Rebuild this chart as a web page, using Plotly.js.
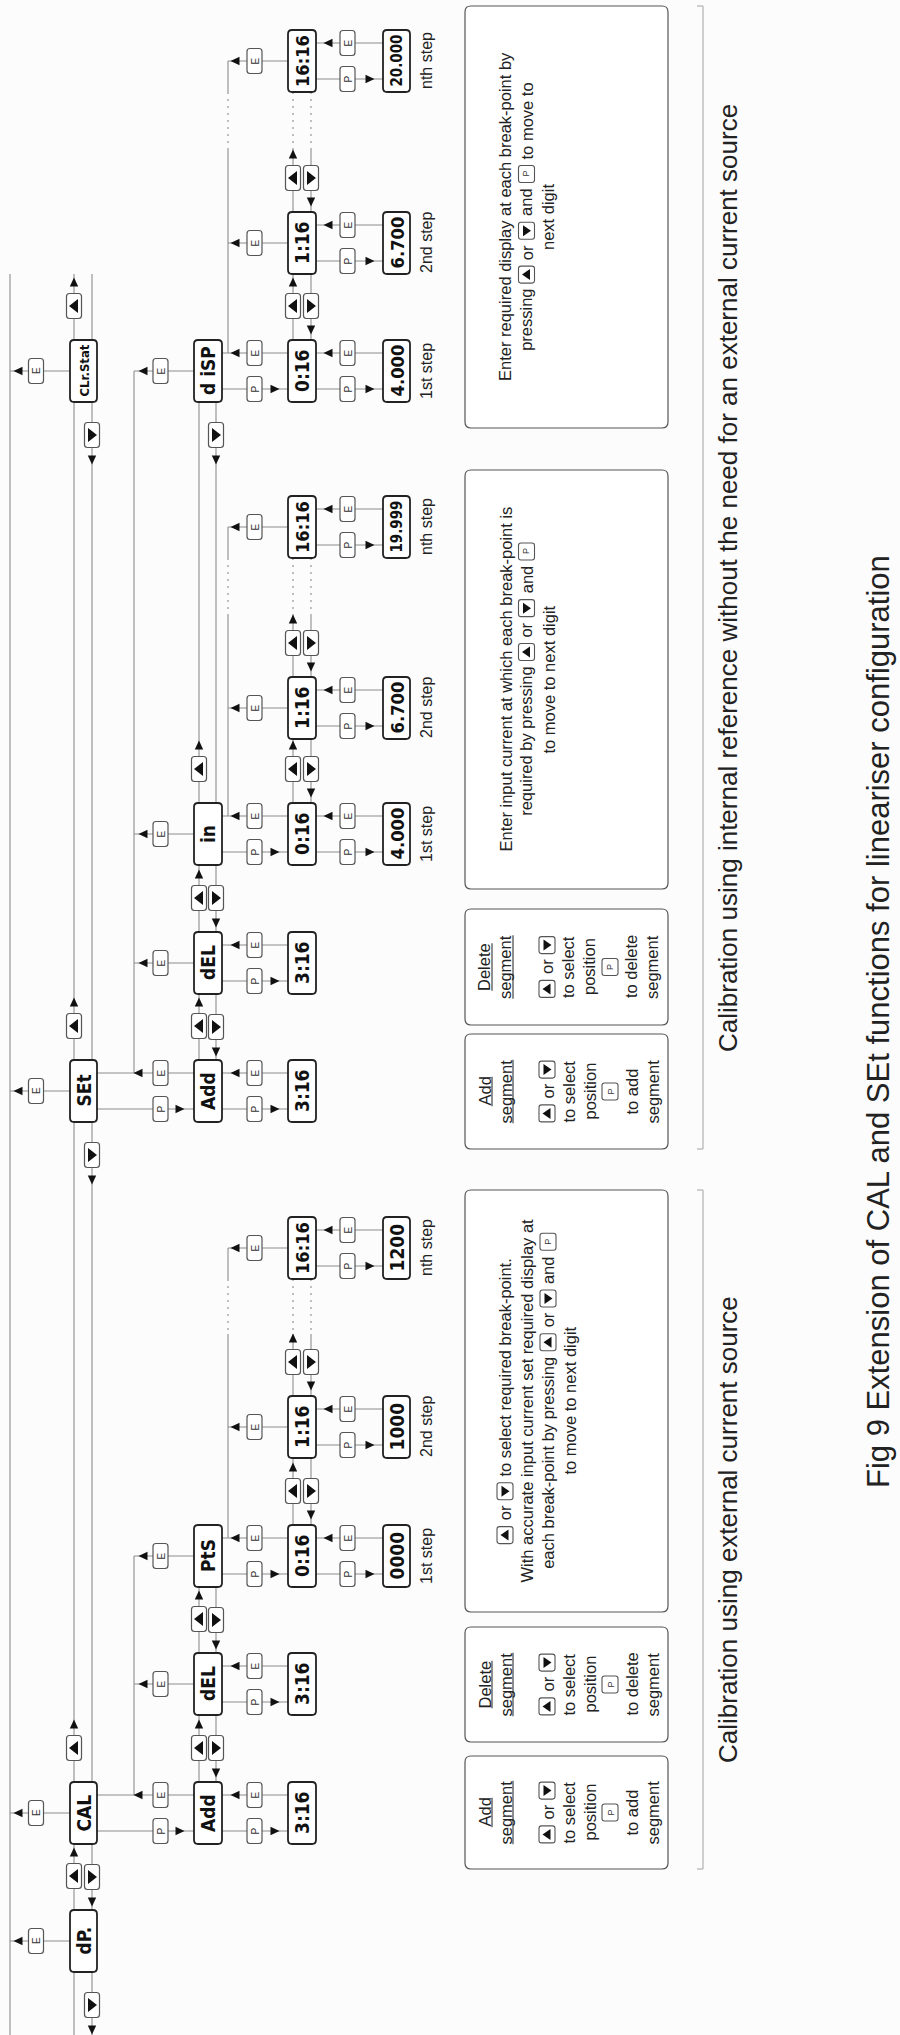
<!DOCTYPE html>
<html><head><meta charset="utf-8">
<script src="https://cdn.plot.ly/plotly-3.0.1.min.js"></script>
<style>html,body{margin:0;padding:0;background:#fcfcfc}</style>
</head><body><div id="chart" style="width:900px;height:2035px"></div>
<script>
// ---------------- DATA ----------------
const mainMenu   = ['dP.', 'CAL', 'SEt', 'CLr.Stat'];
const calMenu    = ['Add', 'dEL', 'PtS'];
const setMenu    = ['Add', 'dEL', 'in', 'd iSP'];
const segDisplay = ['3:16', '3:16'];
const breakPoints = ['0:16', '1:16', '16:16'];
const stepNames  = ['1st step', '2nd step', 'nth step'];
const calValues  = ['0000', '1000', '1200'];
const inValues   = ['4.000', '6.700', '19.999'];
const dispValues = ['4.000', '6.700', '20.000'];
const addNote  = ['<u>Add</u>', '<u>segment</u>', '', '{U} or {D}', 'to select', 'position', '{P}', 'to add', 'segment'];
const delNote  = ['<u>Delete</u>', '<u>segment</u>', '', '{U} or {D}', 'to select', 'position', '{P}', 'to delete', 'segment'];
const calBreakNote = ['{U} or {D} to select required break-point.',
                      'With accurate input current set required display at',
                      'each break-point by pressing {U} or {D} and {P}',
                      'to move to next digit'];
const setInNote   = ['Enter input current at which each break-point is',
                     'required by pressing {U} or {D} and {P}',
                     'to move to next digit'];
const setDispNote = ['Enter required display at each break-point by',
                     'pressing {U} or {D} and {P} to move to',
                     'next digit'];
const captionExt = 'Calibration using external current source';
const captionInt = 'Calibration using internal reference without the need for an external current source';
const figTitle   = 'Fig 9 Extension of CAL and SEt functions for lineariser configuration';

// ---------------- GEOMETRY / STYLE ----------------
const W = 900, H = 2035;
const A = {x0: 70, x1: 97, l1: 74, l2: 92};
const B = {x0: 194, x1: 222, l1: 199, l2: 216};
const C = {x0: 288, x1: 316, l1: 293, l2: 311};
const D = {x0: 383, x1: 410};
const BH = 62;
const XL = 10, XRA = 134, XRB = 228, YWRAP = 274;
const mainTops = [1910, 1782, 1060, 340];
const calTops = [1782, 1653, 1525];
const setTops = [1060, 932, 803, 340];
const calStepTops = [1525, 1396, 1217];
const inStepTops = [803, 677, 496];
const dispStepTops = [340, 212, 30];
const SANS = '"Liberation Sans", Arial, Helvetica, sans-serif';
const SEG = '"DejaVu Sans Condensed", "DejaVu Sans", sans-serif';
const LC = '#8c8c8c';

const lines = [], boxes = [], marks = [], ann = [];
const cv = document.createElement('canvas').getContext('2d');
function textW(s, size, font) { cv.font = (font || (size + 'px "Liberation Sans", Arial, sans-serif')); return cv.measureText(s).width; }

function L(x0, y0, x1, y1, dash, color, arr, width) {
  (arr || lines).push({type: 'line', xref: 'x', yref: 'y', x0, y0, x1, y1,
    line: {color: color || LC, width: width || 1.1, dash: dash || 'solid'}});
}
function rr(x0, y0, x1, y1, r) {
  return `M${x0 + r},${y0} L${x1 - r},${y0} Q${x1},${y0} ${x1},${y0 + r} L${x1},${y1 - r} Q${x1},${y1} ${x1 - r},${y1} ` +
         `L${x0 + r},${y1} Q${x0},${y1} ${x0},${y1 - r} L${x0},${y0 + r} Q${x0},${y0} ${x0 + r},${y0} Z`;
}
function tri(x, y, dir, len, hw, arr) {
  len = len || 9; hw = hw || 4.2; let p;
  if (dir === 'up') p = `M${x},${y - len / 2} L${x + hw},${y + len / 2} L${x - hw},${y + len / 2} Z`;
  if (dir === 'down') p = `M${x},${y + len / 2} L${x + hw},${y - len / 2} L${x - hw},${y - len / 2} Z`;
  if (dir === 'left') p = `M${x - len / 2},${y} L${x + len / 2},${y - hw} L${x + len / 2},${y + hw} Z`;
  if (dir === 'right') p = `M${x + len / 2},${y} L${x - len / 2},${y - hw} L${x - len / 2},${y + hw} Z`;
  (arr || marks).push({type: 'path', xref: 'x', yref: 'y', path: p, fillcolor: '#111', line: {width: 0}});
}
function text(x, y, s, size, opts) {
  opts = opts || {};
  ann.push({x, y, xref: 'x', yref: 'y', text: s, showarrow: false, textangle: -90,
    xanchor: 'center', yanchor: 'middle',
    font: {family: opts.family || SANS, size, color: opts.color || '#222', weight: opts.weight || 'normal'}});
}
function btn(xc, yc, kind) {
  boxes.push({type: 'path', xref: 'x', yref: 'y', path: rr(xc - 7.5, yc - 12.5, xc + 7.5, yc + 12.5, 3),
    fillcolor: '#fff', line: {color: '#555', width: 1.2}});
  if (kind === 'U') tri(xc - 0.5, yc, 'left', 9, 7, boxes);
  else if (kind === 'D') tri(xc + 0.5, yc, 'right', 9, 7, boxes);
  else text(xc, yc, kind, 10, {color: '#333'});
}
function inlineBtn(xc, yc, kind) {
  boxes.push({type: 'path', xref: 'x', yref: 'y', path: rr(xc - 8, yc - 8.5, xc + 8, yc + 8.5, 2.5),
    fillcolor: '#fff', line: {color: '#555', width: 1.1}});
  if (kind === 'U') tri(xc - 0.5, yc, 'left', 8, 5.5, boxes);
  else if (kind === 'D') tri(xc + 0.5, yc, 'right', 8, 5.5, boxes);
  else text(xc, yc, 'P', 9, {color: '#333'});
}
function display(col, T, label) {
  boxes.push({type: 'path', xref: 'x', yref: 'y', path: rr(col.x0, T, col.x1, T + BH, 4),
    fillcolor: '#fff', line: {color: '#222', width: 1.8}});
  const w19 = textW(label, 19, 'bold 19px "DejaVu Sans Condensed", "DejaVu Sans", sans-serif');
  const fs = Math.min(19, 19 * 52 / w19);
  text((col.x0 + col.x1) / 2, T + BH / 2, label, fs, {family: SEG, color: '#111', weight: 'bold'});
}

// ---------------- MAIN COLUMN ----------------
L(XL, YWRAP, XL, H); L(A.l1, YWRAP, A.l1, H); L(A.l2, YWRAP, A.l2, H);
mainTops.forEach((T, i) => {
  const yc = T + BH / 2;
  L(XL, yc, A.x0, yc); btn(36, yc, 'E'); tri(18, yc, 'left');
  btn(A.l1, T - 34, 'U'); tri(A.l1, T - 58, 'up');
  btn(A.l2, T + BH + 33, 'D'); tri(A.l2, T + BH + 58, 'down');
  display(A, T, mainMenu[i]);
});

// ---------------- SUB MENUS ----------------
function subMenu(items, tops) {
  const mainT = tops[0], last = tops[tops.length - 1];
  L(A.x1, mainT + 13, B.x0, mainT + 13); btn(160.5, mainT + 13, 'E'); tri(138, mainT + 13, 'left');
  L(A.x1, mainT + 49, B.x0, mainT + 49); btn(160.5, mainT + 49, 'P'); tri(180, mainT + 49, 'right');
  L(XRA, last + BH / 2, XRA, mainT + 13);
  L(B.l1, last + BH, B.l1, mainT); L(B.l2, last + BH, B.l2, mainT);
  tops.forEach((T, i) => {
    if (i > 0) {
      const yc = T + BH / 2;
      L(XRA, yc, B.x0, yc); btn(160.5, yc, 'E'); tri(143, yc, 'left');
      btn(B.l2, T + BH + 33, 'D'); tri(B.l2, T + BH + 58, 'down');
    }
    if (i < tops.length - 1) { btn(B.l1, T - 34, 'U'); tri(B.l1, T - 58, 'up'); }
    L(B.x1, T + 13, C.x0, T + 13); btn(254.5, T + 13, 'E'); tri(235, T + 13, 'left');
    L(B.x1, T + 49, C.x0, T + 49); btn(254.5, T + 49, 'P'); tri(275, T + 49, 'right');
    display(B, T, items[i]);
  });
}
function segments(tops) { tops.forEach((T, i) => display(C, T, segDisplay[i])); }
function steps(tops, values) {
  const n = tops.length;
  for (let i = 0; i < n - 1; i++) {
    const Lw = tops[i], U = tops[i + 1];
    const end228 = (i === 0) ? Lw + 13 : Lw + BH / 2;
    const gap = Lw - (U + BH);
    if (gap > 80) {
      L(XRB, U + BH / 2, XRB, U + BH); L(XRB, U + BH, XRB, Lw - 62, '2px,5px'); L(XRB, Lw - 62, XRB, end228);
      [C.l1, C.l2].forEach(x => { L(x, U + BH, x, Lw - 62, '2px,5px'); L(x, Lw - 62, x, Lw); });
    } else {
      L(XRB, U + BH / 2, XRB, end228);
      [C.l1, C.l2].forEach(x => L(x, U + BH, x, Lw));
    }
    btn(C.l1, Lw - 34, 'U'); tri(C.l1, Lw - 58, 'up');
    btn(C.l2, Lw - 34, 'D'); tri(C.l2, Lw - 10, 'down');
  }
  tops.forEach((T, i) => {
    if (i > 0) { const yc = T + BH / 2; L(XRB, yc, C.x0, yc); btn(254.5, yc, 'E'); tri(235, yc, 'left'); }
    L(C.x1, T + 13, D.x0, T + 13); btn(347.5, T + 13, 'E'); tri(328, T + 13, 'left');
    L(C.x1, T + 49, D.x0, T + 49); btn(347.5, T + 49, 'P'); tri(370, T + 49, 'right');
    display(C, T, breakPoints[i]);
    display(D, T, values[i]);
    text(426, T + BH / 2, stepNames[i], 16);
  });
}
subMenu(calMenu, calTops);
segments(calTops.slice(0, 2));
steps(calStepTops, calValues);
subMenu(setMenu, setTops);
segments(setTops.slice(0, 2));
steps(inStepTops, inValues);
steps(dispStepTops, dispValues);

// ---------------- NOTES ----------------
const NX0 = 465, NX1 = 668, NFS = 16.5;
function noteLine(x, yc, line, size) {
  const parts = line.split(/(\{[UDP]\})/).map(s => s.trim()).filter(s => s !== '');
  const gap = textW(' ', size) + 1.5;
  const items = parts.map(p => /^\{[UDP]\}$/.test(p) ? {btn: p[1], w: 17} :
    {txt: p, plain: p.replace(/<[^>]+>/g, ''), w: textW(p.replace(/<[^>]+>/g, ''), size)});
  const Wt = items.reduce((a, it) => a + it.w, 0) + gap * (items.length - 1);
  let off = 0;
  items.forEach(it => {
    const c = yc + Wt / 2 - off - it.w / 2;
    if (it.btn) inlineBtn(x, c, it.btn);
    else {
      const under = /<u>/.test(it.txt);
      text(x, c, it.plain, size);
      if (under) L(x + 8, c - it.w / 2, x + 8, c + it.w / 2, 'solid', '#333', marks, 1.1);
    }
    off += it.w + gap;
  });
}
function note(y0, y1, content, firstX, step) {
  boxes.push({type: 'path', xref: 'x', yref: 'y', path: rr(NX0, y0, NX1, y1, 6),
    fillcolor: '#fff', line: {color: '#555', width: 1.2}});
  const yc = (y0 + y1) / 2;
  content.forEach((ln, k) => { if (ln) noteLine(firstX + k * step, yc, ln, NFS); });
}
note(1756, 1869, addNote, 484, 21);
note(1627, 1742, delNote, 484, 21);
note(1190, 1612, calBreakNote, 505, 21.5);
note(1034, 1149, addNote, 484, 21);
note(909, 1025, delNote, 484, 21);
note(470, 889, setInNote, 505, 21.5);
note(6, 428, setDispNote, 505, 21.5);

// brackets + captions
function bracket(y0, y1) {
  L(703, y0, 703, y1, 'solid', '#aaa'); L(697, y0, 703, y0, 'solid', '#aaa'); L(697, y1, 703, y1, 'solid', '#aaa');
}
bracket(1190, 1869); bracket(6, 1149);
text(728, 1530, captionExt, 26, {color: '#222'});
text(728, 578, captionInt, 26, {color: '#222'});
text(878, 1022, figTitle, 31, {color: '#222'});

// ---------------- RENDER ----------------
const anchor = {x: [0, W], y: [0, H], mode: 'markers', marker: {opacity: 0}, hoverinfo: 'skip', showlegend: false};
Plotly.newPlot('chart', [anchor], {
  width: W, height: H, margin: {l: 0, r: 0, t: 0, b: 0},
  paper_bgcolor: '#fcfcfc', plot_bgcolor: '#fcfcfc',
  xaxis: {range: [0, W], visible: false, fixedrange: true},
  yaxis: {range: [H, 0], visible: false, fixedrange: true},
  shapes: lines.concat(boxes, marks), annotations: ann, showlegend: false
}, {staticPlot: true});
</script></body></html>
